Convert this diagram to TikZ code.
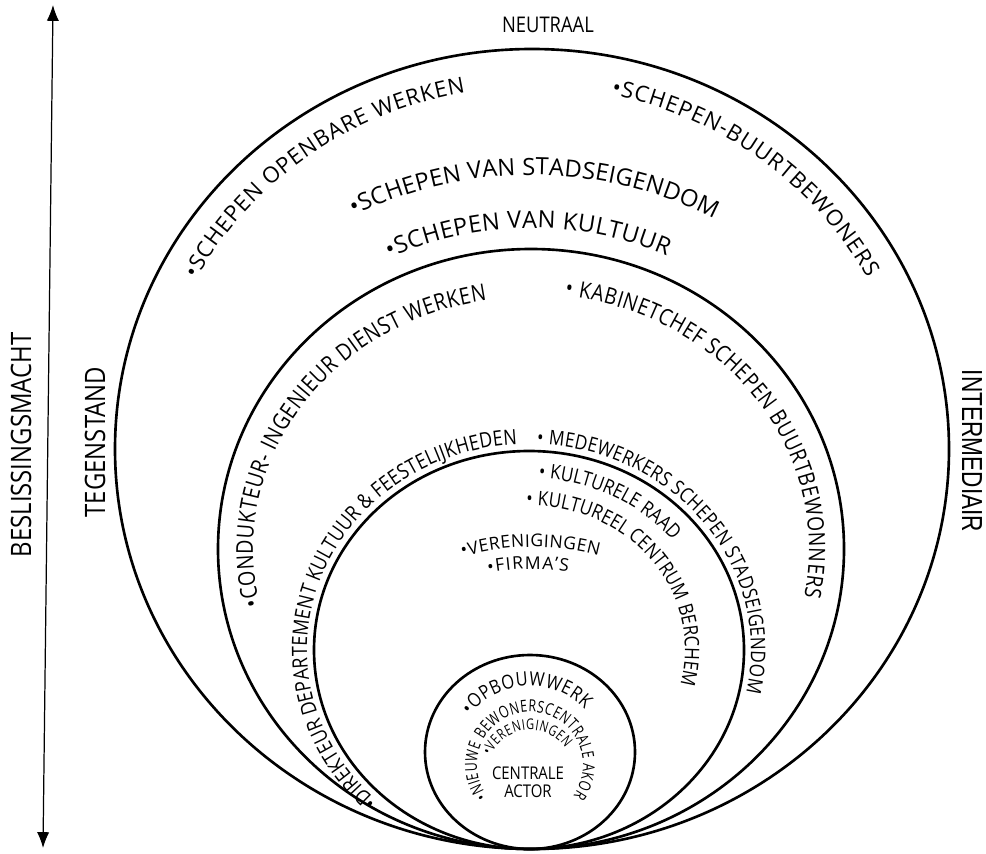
\documentclass[tikz,border=0pt]{standalone}
\usepackage{fontspec}
\setmainfont{Open Sans}
\newfontfamily\condfam{Open Sans}[FakeStretch=0.85]
\newfontfamily\tightfam{Open Sans}[FakeStretch=0.75]
\newfontfamily\narrowfam{Liberation Sans}[FakeStretch=0.78]
\usetikzlibrary{decorations.text,arrows.meta,calc}
\newcommand\szA{\fontsize{13.5}{14}\selectfont}
\newcommand\szAA{\fontsize{12.6}{13}\selectfont}
\newcommand\szB{\condfam\fontsize{13.2}{14}\selectfont}
\newcommand\szBB{\condfam\fontsize{12.9}{14}\selectfont}
\newcommand\szC{\condfam\fontsize{12}{13}\selectfont}
\newcommand\szCC{\condfam\fontsize{11.5}{12}\selectfont}
\newcommand\szD{\condfam\fontsize{11.4}{12}\selectfont}
\newcommand\szE{\fontsize{10}{11}\selectfont}
\newcommand\szF{\condfam\fontsize{11}{12}\selectfont}
\newcommand\szG{\tightfam\fontsize{9.4}{10}\selectfont}
\newcommand\szH{\tightfam\fontsize{8.4}{9}\selectfont}
\tikzset{
  ring/.style={line width=1.5pt},
  curvetext/.style={decorate, decoration={text along path, text align={fit to path}, text={#1}}},
}
\newcommand\curvelabel[6]{\path[curvetext={#6{\hbox{}}}] ($(#1)+(#4:#2 and #3)$) arc[start angle=#4, end angle=#5, x radius=#2, y radius=#3];}
\begin{document}
\begin{tikzpicture}[x=0.02cm,y=0.02cm]
\useasboundingbox (0,0) rectangle (986,853);
% circle centres
\coordinate (C0) at (532,404);
\coordinate (C1) at (531,304);
\coordinate (C2) at (529,203);
\coordinate (C3) at (530,101);
\coordinate (V1) at (533,50);
\coordinate (S1) at (530,88);
\coordinate (S2) at (530,80);
% circles
\draw[ring] (C0) ellipse [x radius=417, y radius=400];
\draw[ring] (C1) ellipse [x radius=313, y radius=300];
\draw[ring] (C2) ellipse [x radius=215, y radius=199];
\draw[ring] (C3) ellipse [x radius=105, y radius=97];
% axis arrow
\coordinate (abot) at (43,5);
\coordinate (atop) at (53,848);
\draw[line width=0.7pt, {Latex[length=9pt,width=7pt]}-{Latex[length=9pt,width=7pt]}] (abot) -- (atop);
% straight labels
\node[font=\condfam\fontsize{12.3}{13}\selectfont] (neu) at (548,828) {NEUTRAAL};
\node[rotate=90, font=\condfam\fontsize{16}{16}\selectfont] (bes) at (21,408) {BESLISSINGSMACHT};
\node[rotate=90, font=\condfam\fontsize{16}{16}\selectfont] (teg) at (95,411) {TEGENSTAND};
\node[rotate=-90, font=\narrowfam\fontsize{16.5}{16.5}\selectfont] (int) at (972,402) {INTERMEDIAIR};
\node[align=center, font=\condfam\fontsize{10}{10.2}\selectfont] (ca) at (528,71) {CENTRALE\\ACTOR};
% curved labels
\curvelabel{C0}{380}{362}{152}{100}{|\szAA|•SCHEPEN OPENBARE WERKEN}
\curvelabel{C0}{380}{362}{78}{28}{|\szAA|•SCHEPEN-BUURTBEWONERS}
\curvelabel{C1}{390}{374}{117}{62}{|\szA|•SCHEPEN VAN STADSEIGENDOM}
\curvelabel{C1}{335}{321}{115}{66}{|\szA|•SCHEPEN VAN KULTUUR}
\curvelabel{C1}{278}{252}{193}{99}{|\szB|•CONDUKTEUR- INGENIEUR DIENST WERKEN}
\curvelabel{C1}{278}{255}{83}{-11}{|\szBB|• KABINETCHEF SCHEPEN BUURTBEWONNERS}
\curvelabel{C2}{222}{206}{227}{93}{|\szC|•DIREKTEUR DEPARTEMENT KULTUUR {\&} FEESTELIJKHEDEN}
\curvelabel{C2}{222}{206}{88}{-12}{|\szCC|• MEDEWERKERS SCHEPEN STADSEIGENDOM}
\curvelabel{C2}{186}{172}{87}{40}{|\szD|• KULTURELE RAAD}
\curvelabel{C2}{156}{144.5}{91}{-14}{|\szD|• KULTUREEL CENTRUM BERCHEM}
\curvelabel{V1}{256}{256}{106}{75}{|\szE|•VERENIGINGEN}
\curvelabel{V1}{234}{234}{101}{81}{|\szE|•FIRMA'S}
\curvelabel{C3}{72}{66}{146}{40}{|\szF|•OPBOUWWERK}
\curvelabel{S1}{53}{53}{216}{-36}{|\szG|•NIEUWE BEWONERSCENTRALE AKOR}
\curvelabel{S2}{43}{43}{156}{34}{|\szH|•VERENIGINGEN}
\end{tikzpicture}
\end{document}
